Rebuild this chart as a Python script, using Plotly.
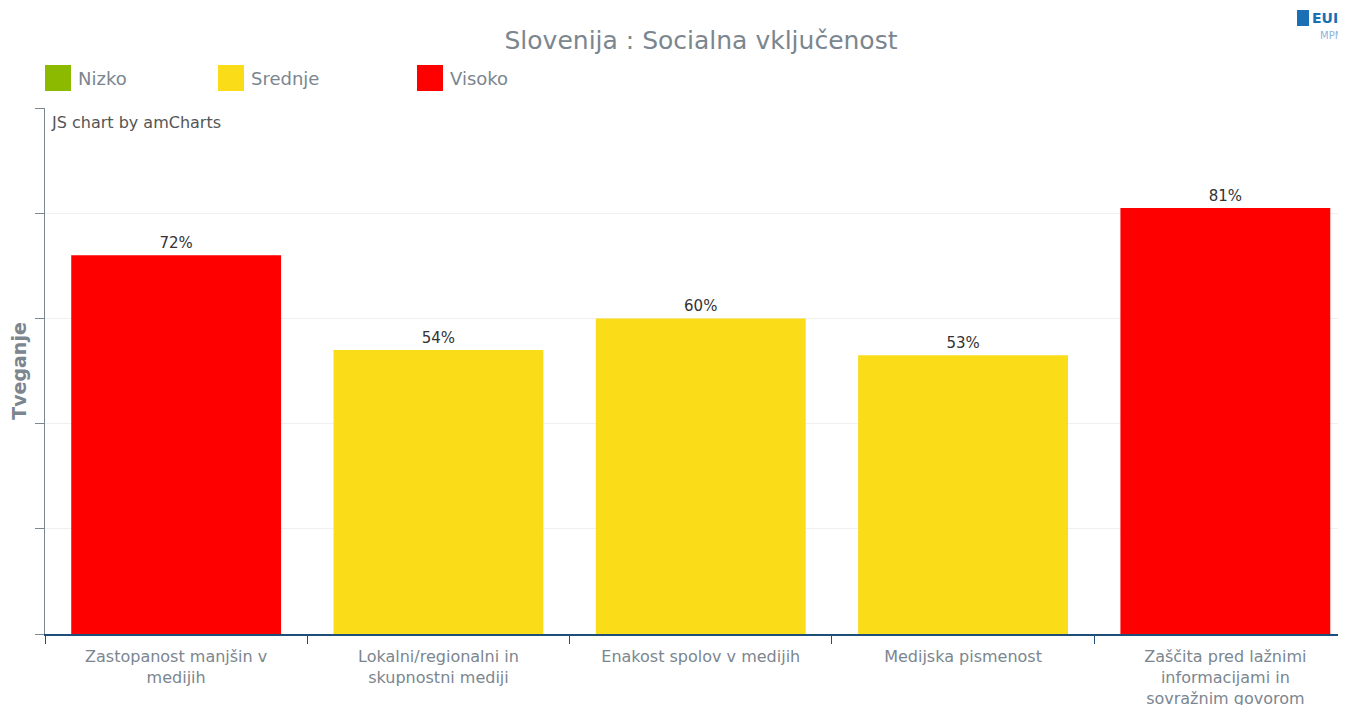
import plotly.graph_objects as go

TITLE = "Slovenija : Socialna vključenost"
CATEGORIES = [
    "Zastopanost manjšin v<br>medijih",
    "Lokalni/regionalni in<br>skupnostni mediji",
    "Enakost spolov v medijih",
    "Medijska pismenost",
    "Zaščita pred lažnimi<br>informacijami in<br>sovražnim govorom",
]
RISK = [72, 54, 60, 53, 81]
LEVEL = ["Visoko", "Srednje", "Srednje", "Srednje", "Visoko"]
LEVELS = ["Nizko", "Srednje", "Visoko"]
LEVEL_COLORS = {"Nizko": "#8cba00", "Srednje": "#fadc19", "Visoko": "#ff0000"}
Y_TICKS = [0, 20, 40, 60, 80, 100]

GREY = "#7b868f"
FONT = "DejaVu Sans, Verdana, sans-serif"

# the page has an 8px body margin, so the figure is drawn 8px in from the corner
OFF = 8
W, H = 1346 - OFF, 705 - OFF
L, T, B = 45 - OFF, 108 - OFF, 71
PW, PH = W - L, H - T - B
CAT_W = 262.3  # the original plot runs past the window edge


def px(x):
    return (x - OFF - L) / PW


def py(y):
    return 1 - (y - OFF - T) / PH


fig = go.Figure(go.Bar(
    x=CATEGORIES, y=RISK,
    marker=dict(color=[LEVEL_COLORS[l] for l in LEVEL], line=dict(width=0)),
    text=[f"{v}%" for v in RISK], textposition="outside",
    textfont=dict(size=15, color="#333333", family=FONT),
    cliponaxis=False, showlegend=False,
))

# manual legend with large square swatches
legend_x = [45, 218, 417]
for lvl, x0 in zip(LEVELS, legend_x):
    fig.add_shape(type="rect", xref="paper", yref="paper",
                  x0=px(x0), x1=px(x0 + 26), y0=py(91), y1=py(65),
                  fillcolor=LEVEL_COLORS[lvl], line=dict(width=0))
    fig.add_annotation(text=lvl, xref="paper", yref="paper",
                       x=px(x0 + 31), y=py(78),
                       xanchor="left", yanchor="middle", showarrow=False,
                       font=dict(size=18, color=GREY, family=FONT))

fig.add_annotation(text="JS chart by amCharts", xref="paper", yref="paper",
                   x=px(49), y=py(123), xanchor="left", yanchor="middle",
                   showarrow=False, font=dict(size=16, color="#555555", family=FONT))

# logo
fig.add_shape(type="rect", xref="paper", yref="paper",
              x0=px(1297), x1=px(1309), y0=py(26), y1=py(10),
              fillcolor="#1b6fb5", line=dict(width=0))
fig.add_annotation(text="<b>EUI</b>", xref="paper", yref="paper", x=px(1310), y=py(18),
                   xanchor="left", yanchor="middle", showarrow=False,
                   font=dict(size=14, color="#1b6fb5", family=FONT))
fig.add_annotation(text="MPM", xref="paper", yref="paper", x=px(1345), y=py(35),
                   xanchor="right", yanchor="middle", showarrow=False,
                   font=dict(size=10, color="#8fb3d9", family=FONT))

fig.update_layout(
    width=W, height=H,
    paper_bgcolor="white", plot_bgcolor="white",
    margin=dict(l=L, r=0, t=T, b=B),
    bargap=0.2,
    font=dict(family=FONT, color=GREY),
    title=dict(text=TITLE, x=px(701), xanchor="center", y=1 - (40 - OFF) / H, yanchor="middle",
               xref="paper", font=dict(size=25, color=GREY, family=FONT)),
    xaxis=dict(
        range=[-0.5, -0.5 + PW / CAT_W], automargin=False,
        showline=True, linecolor="#1f4e79", linewidth=2,
        ticks="outside", tickson="boundaries", ticklen=8, tickcolor="#1f4e79",
        ticklabelstandoff=7,
        tickfont=dict(size=16, color=GREY, family=FONT),
        showgrid=False,
    ),
    yaxis=dict(
        range=[0, 100], tickvals=Y_TICKS, showticklabels=False, automargin=False,
        showline=True, linecolor=GREY, linewidth=1,
        ticks="outside", ticklen=9, tickcolor=GREY,
        showgrid=True, gridcolor="#f0f0f0", zeroline=False,
        title=dict(text="<b>Tveganje</b>", standoff=6,
                   font=dict(size=19, color=GREY, family=FONT)),
    ),
)

fig.write_html("out.html")
